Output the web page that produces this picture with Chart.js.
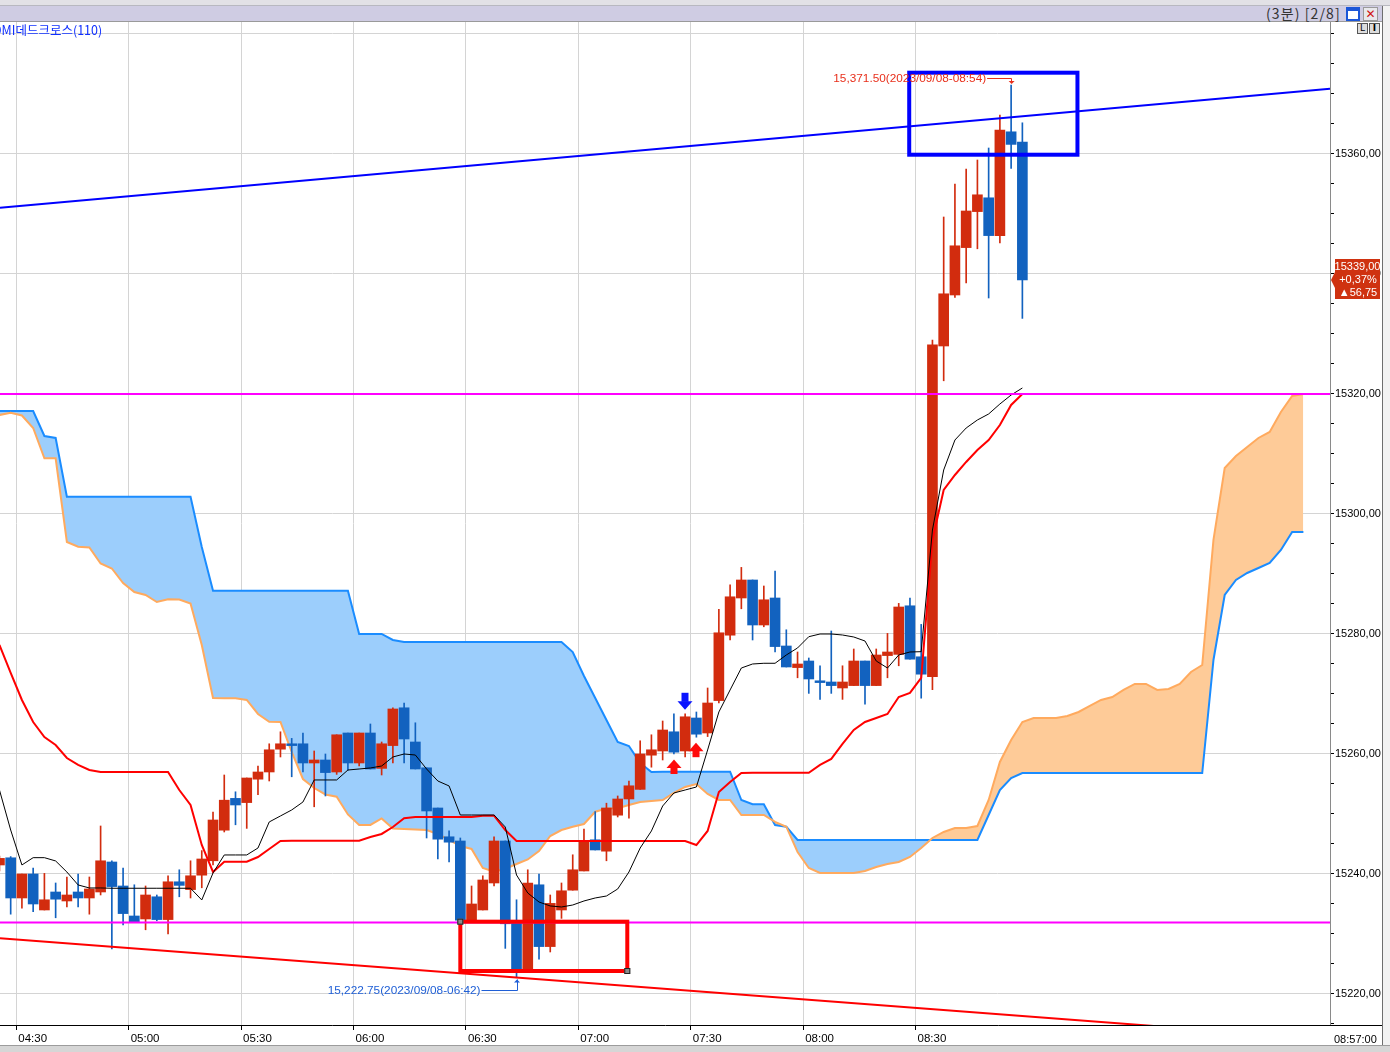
<!DOCTYPE html>
<html><head><meta charset="utf-8"><title>3분 차트</title>
<script src="https://cdn.jsdelivr.net/npm/chart.js@4.4.1/dist/chart.umd.min.js"></script>
<style>
html,body{margin:0;padding:0;background:#fff;width:1390px;height:1052px;overflow:hidden;font-family:"Liberation Sans",Arial,sans-serif;}
.abs{position:absolute;box-sizing:border-box}
#toolbar{left:0;top:0;width:1390px;height:6px;background:#e2e1e6;border-bottom:1px solid #b8b8c0}
#hdr{left:0;top:6px;width:1382px;height:16px;background:#cfcce3;border-bottom:1px solid #9a9a9a}
#hdrtxt{left:1266px;top:5px;font:14px "Noto Sans CJK KR",sans-serif;color:#333;line-height:17px;letter-spacing:1.1px;white-space:nowrap}
#winbtn{left:1346px;top:7px;width:14px;height:14px;background:#fff;border:2px solid #1b56d8;border-top-width:4px}
#xbtn{left:1363px;top:7px;width:15px;height:14px;background:#e8e8ec;border:1px solid #9a9a9a;color:#d01010;font:bold 12px "DejaVu Sans",sans-serif;line-height:12px;text-align:center}
#lbtn{left:1357px;top:23px;width:11px;height:11px;background:#ddd;border:1px solid #555;font:9px "DejaVu Sans";line-height:9px;text-align:center}
#ibtn{left:1369px;top:23px;width:11px;height:11px;background:#ddd;border:1px solid #555;font:bold 9px "DejaVu Sans";line-height:9px;text-align:center}
#wrap{left:0;top:22px;width:1382px;height:1023px}
#side{left:1382px;top:6px;width:8px;height:1040px;background:#f2f2f2;border-left:1px solid #6e6e6e}
#bottom{left:0;top:1045px;width:1390px;height:7px;background:#d6d6d6;border-top:1px solid #9c9c9c}
</style></head>
<body>
<div id="toolbar" class="abs"></div>
<div id="hdr" class="abs"></div>
<div id="hdrtxt" class="abs">(3분) [2/8]</div>
<div id="winbtn" class="abs"></div>
<div id="xbtn" class="abs">✕</div>
<div id="wrap" class="abs"><canvas id="c" width="1382" height="1023"></canvas></div>
<div id="lbtn" class="abs">L</div>
<div id="ibtn" class="abs">I</div>
<div id="side" class="abs"></div>
<div id="bottom" class="abs"></div>
<script>
// ---------------- DATA ----------------
const firstCandleTime = "04:24";   // first (partially visible) 3-minute candle
const originTime = "04:30";
const barMinutes = 3;

const open = [
 15241.5,15242.7,15236.0,15240.0,15234.0,15237.0,15235.5,15237.0,15236.0,15237.0,
 15242.0,15238.0,15233.0,15232.5,15236.2,15232.4,15238.7,15237.4,15239.8,15242.2,
 15247.3,15252.6,15251.9,15255.8,15257.0,15260.8,15261.7,15261.7,15258.5,15259.0,
 15257.0,15263.5,15258.5,15263.5,15257.6,15261.4,15267.7,15262.0,15257.7,15251.0,
 15246.2,15245.5,15232.3,15234.0,15238.5,15245.5,15231.8,15224.1,15238.2,15227.9,
 15234.0,15237.3,15240.5,15245.7,15243.8,15249.8,15252.5,15254.1,15259.8,15260.5,
 15263.7,15260.5,15266.0,15263.5,15268.9,15279.8,15286.0,15289.0,15281.5,15286.0,
 15278.0,15274.4,15275.5,15272.2,15272.0,15271.0,15271.4,15275.5,15271.4,15276.4,
 15276.6,15284.7,15276.2,15272.9,15328.0,15336.5,15344.4,15350.4,15352.7,15346.4,15363.7,15362.0];
const high = [
 15243.0,15242.9,15240.0,15241.0,15240.1,15238.5,15239.5,15240.0,15239.5,15248.0,
 15242.2,15241.0,15238.2,15238.0,15236.5,15239.7,15240.7,15242.2,15243.9,15250.3,
 15256.5,15253.7,15256.0,15258.0,15261.7,15263.7,15262.6,15263.5,15260.5,15260.0,
 15263.2,15263.5,15263.5,15265.0,15262.0,15267.7,15268.5,15265.2,15257.7,15251.0,
 15247.2,15246.0,15238.0,15239.7,15246.2,15245.5,15235.7,15240.7,15240.0,15236.5,
 15238.5,15243.2,15247.5,15250.4,15251.8,15253.0,15255.5,15262.2,15263.2,15265.5,
 15266.7,15266.7,15267.0,15271.0,15284.1,15288.2,15291.1,15289.0,15288.0,15290.5,
 15280.7,15277.0,15276.0,15274.7,15280.5,15274.7,15277.5,15275.5,15277.5,15280.1,
 15285.1,15286.0,15281.6,15329.0,15349.5,15355.0,15357.5,15359.0,15361.0,15366.5,15371.5,15365.2];
const low = [
 15240.5,15233.3,15234.3,15233.7,15234.0,15232.7,15234.5,15234.5,15233.3,15236.5,
 15227.5,15231.5,15232.0,15230.7,15232.2,15230.0,15236.2,15236.0,15237.7,15241.5,
 15247.0,15248.2,15247.6,15253.2,15255.5,15259.5,15256.2,15257.0,15251.2,15253.0,
 15256.6,15257.3,15258.0,15257.5,15256.5,15258.5,15258.5,15257.5,15246.0,15242.5,
 15242.0,15232.3,15232.0,15234.0,15238.0,15227.6,15222.75,15224.0,15225.8,15227.0,
 15232.6,15237.3,15240.5,15244.0,15242.2,15249.5,15249.3,15254.1,15257.8,15259.0,
 15260.0,15259.5,15262.8,15262.9,15268.5,15279.0,15284.2,15279.0,15281.2,15277.0,
 15274.5,15272.7,15270.1,15269.1,15270.1,15269.1,15271.4,15268.3,15271.4,15272.7,
 15274.7,15275.8,15269.3,15270.7,15322.2,15336.1,15338.5,15344.2,15336.0,15345.2,15357.6,15332.6];
const close = [
 15242.6,15236.0,15240.0,15235.0,15235.7,15235.8,15236.5,15236.0,15237.5,15242.2,
 15237.9,15233.4,15232.0,15236.5,15232.4,15238.7,15238.1,15239.7,15242.5,15249.0,
 15252.3,15251.5,15256.0,15257.0,15260.7,15261.7,15261.4,15258.5,15259.0,15256.9,
 15263.2,15258.5,15263.5,15257.5,15261.7,15267.5,15262.5,15257.5,15250.5,15245.8,
 15245.3,15232.3,15235.0,15239.0,15245.5,15231.7,15224.1,15238.5,15227.9,15235.1,
 15237.2,15240.7,15245.5,15244.0,15251.0,15252.5,15254.7,15260.0,15260.7,15264.0,
 15260.3,15266.2,15263.3,15268.5,15280.2,15286.2,15289.0,15281.5,15285.7,15277.9,
 15274.5,15275.0,15272.5,15271.9,15271.4,15272.0,15275.5,15271.4,15276.5,15277.0,
 15284.5,15275.8,15273.3,15328.2,15336.7,15344.7,15350.5,15353.2,15346.4,15364.0,15361.6,15339.0];

// conversion line (black) and base line (red)
const tenkan = [
 15254.0,15247.33,15241.5,15242.72,15242.72,15242.17,15240.33,15238.17,15237.67,15237.67,
 15237.62,15237.62,15237.62,15237.62,15237.62,15237.62,15237.62,15237.62,15235.67,15240.17,
 15243.17,15243.17,15243.17,15244.33,15248.67,15249.67,15250.67,15252.0,15255.67,15255.67,
 15255.67,15257.33,15257.5,15257.67,15258.0,15259.5,15260.0,15259.83,15257.5,15255.5,
 15254.67,15249.83,15249.83,15249.83,15249.83,15247.83,15239.83,15236.83,15235.33,15234.67,
 15234.5,15234.83,15235.5,15236.0,15236.33,15237.5,15240.33,15244.33,15247.17,15251.33,
 15253.5,15254.0,15254.5,15260.67,15267.0,15270.67,15274.33,15275.0,15275.12,15275.12,
 15276.5,15277.67,15279.55,15280.0,15280.0,15279.83,15279.5,15278.83,15275.5,15274.33,
 15276.5,15277.0,15277.05,15297.33,15307.33,15312.33,15314.33,15315.67,15316.67,15318.33,15319.83,15321.0];
const kijun = [
 15278.17,15273.5,15269.0,15265.33,15262.83,15261.5,15259.33,15258.17,15257.33,15257.0,
 15257.0,15257.0,15257.0,15257.0,15257.0,15257.0,15254.0,15251.5,15244.83,15240.33,
 15242.05,15242.05,15242.05,15242.83,15244.17,15245.5,15245.55,15245.55,15245.55,15245.55,
 15245.55,15245.55,15245.55,15246.17,15246.67,15247.83,15249.28,15249.5,15249.5,15249.5,
 15249.5,15249.5,15249.5,15249.72,15249.72,15247.33,15245.5,15245.5,15245.5,15245.5,
 15245.5,15245.5,15245.5,15245.5,15245.5,15245.5,15245.5,15245.5,15245.5,15245.5,
 15245.5,15245.5,15244.83,15247.17,15253.67,15255.33,15256.83,15256.88,15256.88,15256.88,
 15256.88,15256.88,15256.88,15258.17,15259.17,15261.67,15264.0,15265.33,15266.0,15266.67,
 15269.5,15270.17,15272.67,15295.67,15304.0,15306.5,15308.67,15310.67,15312.33,15314.83,15318.17,15320.0];

// leading spans (cloud), same start as candles, extended 25 periods ahead
const spanBlue = [
 15317.17,15317.17,15317.17,15317.17,15313.0,15312.67,15302.88,15302.88,15302.88,15302.88,
 15302.88,15302.88,15302.88,15302.88,15302.88,15302.88,15302.88,15302.88,15294.5,15287.22,
 15287.22,15287.22,15287.22,15287.22,15287.22,15287.22,15287.22,15287.22,15287.22,15287.22,
 15287.22,15287.22,15280.0,15280.0,15280.0,15279.0,15278.67,15278.67,15278.67,15278.67,
 15278.67,15278.67,15278.67,15278.67,15278.67,15278.67,15278.67,15278.67,15278.67,15278.67,
 15278.67,15277.0,15273.0,15269.33,15265.67,15262.0,15261.33,15258.5,15257.0,15257.05,
 15257.05,15257.05,15257.05,15257.05,15257.05,15257.05,15252.33,15251.62,15251.62,15248.17,
 15247.88,15245.67,15245.67,15245.67,15245.67,15245.67,15245.67,15245.67,15245.67,15245.67,
 15245.67,15245.67,15245.67,15245.67,15245.67,15245.67,15245.67,15245.67,15249.83,15254.0,
 15256.0,15256.83,15256.83,15256.83,15256.83,15256.83,15256.83,15256.83,15256.83,15256.83,
 15256.83,15256.83,15256.83,15256.83,15256.83,15256.83,15256.83,15256.83,15275.67,15286.5,
 15289.0,15290.17,15291.0,15291.83,15294.0,15297.0,15297.0];
const spanOrange = [
 15316.5,15316.88,15316.42,15314.33,15309.28,15309.28,15295.33,15294.55,15294.42,15291.75,
 15290.92,15288.5,15287.0,15286.5,15285.33,15285.78,15285.75,15285.08,15278.17,15269.33,
 15269.28,15269.28,15269.0,15266.67,15265.38,15265.33,15260.33,15255.83,15254.33,15253.25,
 15252.88,15249.92,15248.17,15248.17,15249.25,15247.58,15247.5,15247.42,15247.33,15246.67,
 15245.67,15244.67,15244.17,15241.0,15240.38,15240.88,15241.67,15242.42,15243.83,15246.33,
 15247.33,15247.88,15248.33,15250.38,15250.92,15250.95,15251.5,15252.0,15252.17,15252.33,
 15253.5,15254.5,15255.0,15253.33,15252.33,15252.33,15249.83,15249.83,15249.83,15248.67,
 15247.88,15243.67,15241.0,15240.17,15240.17,15240.17,15240.17,15240.5,15241.17,15241.67,
 15242.0,15242.83,15244.33,15246.0,15247.0,15247.67,15247.67,15248.0,15252.33,15258.67,
 15262.33,15265.33,15266.0,15266.0,15266.0,15266.33,15267.0,15268.0,15269.0,15269.5,
 15270.67,15271.67,15271.67,15270.67,15270.83,15271.67,15273.67,15274.83,15295.67,15307.67,
 15309.67,15311.17,15312.67,15313.67,15317.0,15319.67,15320.0];

const xTickLabels = ["04:30","05:00","05:30","06:00","06:30","07:00","07:30","08:00","08:30"];
const lastBarLabel = "08:57:00";
const yLabelStep = 20, yMinorStep = 5;
const horizontalLevels = [15320, 15231.9];
const blueTrend = [15351.03, 15370.88];   // values at left / right edge of plot
const redTrend  = [15229.28, 15212.43];
const priceTag = ["15339,00", "+0,37%", "▲56,75"];
const indicatorName = "DMI데드크로스(110)";
const highNote = {text:"15,371.50(2023/09/08-08:54)", time:"08:54", value:15371.5};
const lowNote  = {text:"15,222.75(2023/09/08-06:42)", time:"06:42", value:15222.75};
const downSignals = ["07:27"];
const upSignals = ["07:24","07:30"];
// boxes: [minutes-from, minutes-to, value-top, value-bottom]
const boxBlue = [238.3, 283.2, 15373.55, 15359.88];
const boxRed  = [118.5, 163.06, 15232.05, 15223.83];

// ---------------- helpers ----------------
const toMin = s => { const [h,m] = s.split(":").map(Number); return h*60+m; };
const t0 = toMin(originTime);
const startOff = toMin(firstCandleTime) - t0;
const xOfIndex = i => startOff + i*barMinutes + barMinutes/2;
const xOfTime = s => toMin(s) - t0 + barMinutes/2;
const xMin = -4.35, xMax = 350.6, yMin = 15214.83, yMax = 15382.0;
const FONT = '"Liberation Sans", Arial, sans-serif';

const RED = '#d22c0e', BLUE = '#1262bf';
const isUp = i => close[i] >= open[i];
const wickData = open.map((o,i)=>({x:xOfIndex(i), y:[low[i], high[i]]}));
const bodyData = open.map((o,i)=>({x:xOfIndex(i), y:[o, close[i]]}));
const lineData = arr => arr.map((v,i)=>({x:xOfIndex(i), y:v}));
const hline = v => [{x:xMin,y:v},{x:xMax,y:v}];

const deco = {
  id:'deco',
  afterDatasetsDraw(chart){
    const {ctx, scales:{x,y}} = chart;
    const X = m => x.getPixelForValue(m), Y = v => y.getPixelForValue(v);
    ctx.save();
    [[boxBlue,'#0000ff',false],[boxRed,'#ff0000',true]].forEach(([b,c,h])=>{
      ctx.strokeStyle=c; ctx.lineWidth=4;
      ctx.strokeRect(X(b[0]),Y(b[2]),X(b[1])-X(b[0]),Y(b[3])-Y(b[2]));
      if(h){
        ctx.fillStyle='#8c8c8c'; ctx.strokeStyle='#222'; ctx.lineWidth=1;
        [[X(b[0]),Y(b[2])],[X(b[1]),Y(b[3])]].forEach(([px,py])=>{
          ctx.fillRect(px-3,py-3,6,6); ctx.strokeRect(px-2.5,py-2.5,5,5);
        });
      }
    });
    const idxOf = s => Math.round((toMin(s)-t0-startOff)/barMinutes);
    downSignals.forEach(s=>{
      const i=idxOf(s), cx=Math.round(X(xOfIndex(i))), tip=Y(high[i])-4;
      ctx.fillStyle='#0a14ff';
      ctx.fillRect(cx-3.5,tip-17,7,9);
      ctx.beginPath(); ctx.moveTo(cx-7.5,tip-8.5); ctx.lineTo(cx+7.5,tip-8.5); ctx.lineTo(cx,tip); ctx.closePath(); ctx.fill();
    });
    upSignals.forEach(s=>{
      const i=idxOf(s), cx=Math.round(X(xOfIndex(i))), tip=Y(low[i])+5.5;
      ctx.fillStyle='#ff0a0a';
      ctx.beginPath(); ctx.moveTo(cx-7.5,tip+8.5); ctx.lineTo(cx+7.5,tip+8.5); ctx.lineTo(cx,tip); ctx.closePath(); ctx.fill();
      ctx.fillRect(cx-3.5,tip+8,7,6.5);
    });
    ctx.font='11.8px '+FONT; ctx.textBaseline='middle';
    {
      const cx=X(xOfTime(highNote.time)), py=Y(highNote.value), ly=Math.round(py-7)+0.5;
      ctx.strokeStyle='#e8301c'; ctx.fillStyle='#e8301c'; ctx.lineWidth=1;
      ctx.textAlign='right'; ctx.fillText(highNote.text, cx-25, ly);
      ctx.beginPath(); ctx.moveTo(cx-24,ly); ctx.lineTo(Math.round(cx)+0.5,ly); ctx.lineTo(Math.round(cx)+0.5,py-2); ctx.stroke();
      ctx.beginPath(); ctx.moveTo(cx-2.5,py-4); ctx.lineTo(cx+3.5,py-4); ctx.lineTo(cx+0.5,py-1); ctx.closePath(); ctx.fill();
    }
    {
      const cx=X(xOfTime(lowNote.time)), py=Y(lowNote.value), ly=Math.round(py+13)+0.5;
      ctx.strokeStyle='#1f5fd6'; ctx.fillStyle='#1f5fd6'; ctx.lineWidth=1;
      ctx.textAlign='right'; ctx.fillText(lowNote.text, cx-36, ly);
      ctx.beginPath(); ctx.moveTo(cx-35,ly); ctx.lineTo(Math.round(cx)+0.5,ly); ctx.lineTo(Math.round(cx)+0.5,py+2); ctx.stroke();
      ctx.beginPath(); ctx.moveTo(cx-2.5,py+5); ctx.lineTo(cx+3.5,py+5); ctx.lineTo(cx+0.5,py+2); ctx.closePath(); ctx.fill();
    }
    ctx.restore();
  },
  afterDraw(chart){
    const {ctx, scales:{x,y}, chartArea:a} = chart;
    ctx.save();
    ctx.strokeStyle='#000'; ctx.lineWidth=1;
    ctx.beginPath(); ctx.moveTo(a.right, a.bottom+0.5); ctx.lineTo(1382, a.bottom+0.5); ctx.stroke();
    ctx.fillStyle='#000'; ctx.font='11px '+FONT;
    ctx.textAlign='left'; ctx.textBaseline='middle';
    ctx.fillText(lastBarLabel, a.right+4, a.bottom+15);
    ctx.fillStyle='#1030ff'; ctx.font='12.5px "Noto Sans CJK KR", sans-serif';
    ctx.fillText(indicatorName, -7, 8);
    const py = Math.round(y.getPixelForValue(close[close.length-1]));
    ctx.fillStyle='#cf3210';
    ctx.beginPath();
    ctx.moveTo(a.right+1, py); ctx.lineTo(a.right+5, py-8); ctx.lineTo(a.right+5, py-21);
    ctx.lineTo(1380, py-21); ctx.lineTo(1380, py+19); ctx.lineTo(a.right+5, py+19); ctx.lineTo(a.right+5, py+8);
    ctx.closePath(); ctx.fill();
    ctx.fillStyle='#fff'; ctx.font='11px '+FONT; ctx.textAlign='center';
    ctx.fillText(priceTag[0], 1357.5, py-13.5);
    ctx.fillText(priceTag[1], 1358, py-0.5);
    ctx.fillText(priceTag[2], 1358, py+12.5);
    ctx.restore();
  }
};

const xTickValues = xTickLabels.map(s=>toMin(s)-t0);
const isMult = (v,s) => Math.abs(v/s - Math.round(v/s)) < 1e-6;

new Chart(document.getElementById('c'), {
  type:'bar',
  data:{ datasets:[
    {type:'line', label:'spanBlue', data:lineData(spanBlue), borderColor:'#1a8cff', borderWidth:2, pointRadius:0, tension:0,
     fill:{target:1, above:'#9ccefc', below:'#fecb98'}, order:10},
    {type:'line', label:'spanOrange', data:lineData(spanOrange), borderColor:'#ffaa5e', borderWidth:2, pointRadius:0, tension:0, fill:false, order:9},
    {type:'bar', label:'wick', data:wickData, barThickness:1, grouped:false,
     backgroundColor:c=>isUp(c.dataIndex)?RED:BLUE, borderWidth:0, order:6},
    {type:'bar', label:'body', data:bodyData, barThickness:10, minBarLength:1, grouped:false,
     backgroundColor:c=>isUp(c.dataIndex)?RED:BLUE, borderWidth:0, order:5},
    {type:'line', label:'tenkan', data:lineData(tenkan), borderColor:'#000', borderWidth:1, pointRadius:0, tension:0, fill:false, order:3},
    {type:'line', label:'kijun', data:lineData(kijun), borderColor:'#ff0000', borderWidth:2, pointRadius:0, tension:0, fill:false, order:3},
    {type:'line', label:'lvl1', data:hline(horizontalLevels[0]), borderColor:'#ff00ff', borderWidth:2, pointRadius:0, fill:false, order:2},
    {type:'line', label:'lvl2', data:hline(horizontalLevels[1]), borderColor:'#ff00ff', borderWidth:2, pointRadius:0, fill:false, order:2},
    {type:'line', label:'trendBlue', data:[{x:xMin,y:blueTrend[0]},{x:xMax,y:blueTrend[1]}], borderColor:'#0000ff', borderWidth:2, pointRadius:0, fill:false, order:2},
    {type:'line', label:'trendRed', data:[{x:xMin,y:redTrend[0]},{x:xMax,y:redTrend[1]}], borderColor:'#ff0000', borderWidth:2, pointRadius:0, fill:false, order:2}
  ]},
  options:{
    responsive:false, animation:false, devicePixelRatio:1,
    layout:{padding:0},
    plugins:{legend:{display:false}, tooltip:{enabled:false}, title:{display:false}},
    scales:{
      x:{type:'linear', min:xMin, max:xMax, offset:false,
         grid:{offset:false, color:'#d4d4d4', tickColor:'#000', tickLength:5, lineWidth:1},
         border:{display:true, color:'#000', width:1},
         afterBuildTicks:s=>{ s.ticks = xTickValues.map(v=>({value:v})); },
         afterFit:s=>{ s.height=20; s.paddingLeft=0; s.paddingRight=0; },
         ticks:{autoSkip:false, maxRotation:0, align:'start', labelOffset:2, padding:2,
                color:'#000', font:{family:FONT, size:11.5},
                callback:(v)=>{ const i=xTickValues.indexOf(v); return i>=0?xTickLabels[i]:''; }}},
      y:{type:'linear', position:'right', min:yMin, max:yMax,
         grid:{color:c=>c.tick&&isMult(c.tick.value,yLabelStep)?'#d4d4d4':'rgba(0,0,0,0)',
               tickColor:c=>c.tick&&isMult(c.tick.value,yMinorStep)?'#000':'rgba(0,0,0,0)', tickLength:4},
         border:{display:true, color:'#8a8a8a', width:1},
         afterFit:s=>{ s.width=52; s.paddingTop=0; s.paddingBottom=0; },
         ticks:{stepSize:yMinorStep, includeBounds:false, autoSkip:false, padding:1, color:'#000',
                font:{family:FONT, size:11},
                callback:v=>(isMult(v,yLabelStep) && v < yMax-4)?v.toFixed(2).replace('.',','):''}}
    }
  },
  plugins:[deco]
});
</script>
</body></html>
